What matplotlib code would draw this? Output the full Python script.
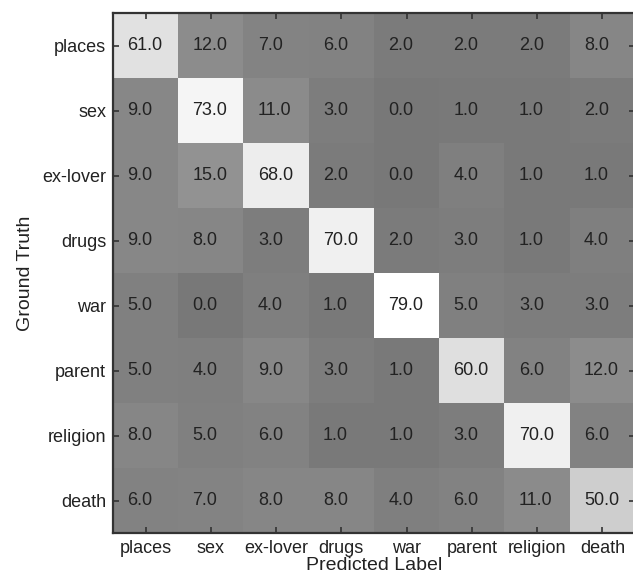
import matplotlib
matplotlib.use("Agg")
import matplotlib.pyplot as plt
import numpy as np
from matplotlib.colors import Normalize

labels = ["places", "sex", "ex-lover", "drugs", "war", "parent", "religion", "death"]
row_places   = [61.0, 12.0, 7.0, 6.0, 2.0, 2.0, 2.0, 8.0]
row_sex      = [9.0, 73.0, 11.0, 3.0, 0.0, 1.0, 1.0, 2.0]
row_exlover  = [9.0, 15.0, 68.0, 2.0, 0.0, 4.0, 1.0, 1.0]
row_drugs    = [9.0, 8.0, 3.0, 70.0, 2.0, 3.0, 1.0, 4.0]
row_war      = [5.0, 0.0, 4.0, 1.0, 79.0, 5.0, 3.0, 3.0]
row_parent   = [5.0, 4.0, 9.0, 3.0, 1.0, 60.0, 6.0, 12.0]
row_religion = [8.0, 5.0, 6.0, 1.0, 1.0, 3.0, 70.0, 6.0]
row_death    = [6.0, 7.0, 8.0, 8.0, 4.0, 6.0, 11.0, 50.0]

cm = np.array([row_places, row_sex, row_exlover, row_drugs,
               row_war, row_parent, row_religion, row_death])

plt.rcParams['font.family'] = ['Liberation Sans', 'DejaVu Sans']
textc = '#222222'

fig = plt.figure(figsize=(6.33, 5.78), dpi=100)
ax = fig.add_axes([113/633, 1-533/578, 522/633, 520/578])
ax.imshow(cm, cmap='gray', norm=Normalize(vmin=-70, vmax=79), aspect='auto',
          interpolation='nearest')

n = len(labels)
for i in range(n):
    for j in range(n):
        ax.text(j - 0.28, i, f"{cm[i, j]:.1f}", ha='left', va='center',
                fontsize=13, color=textc)

ax.set_xticks(range(n))
ax.set_yticks(range(n))
ax.set_xticklabels(labels, fontsize=13, color=textc)
ax.set_yticklabels(labels, fontsize=13, color=textc)
ax.tick_params(direction='in', length=4, width=1.2, color='#333333',
               top=True, right=True, pad=5)
for s in ax.spines.values():
    s.set_linewidth(1.6)
    s.set_color('#333333')
ax.set_xlabel("Predicted Label", fontsize=14, color=textc, labelpad=0)
ax.set_ylabel("Ground Truth", fontsize=14, color=textc, labelpad=6)

fig.savefig("out.png", dpi=100)
